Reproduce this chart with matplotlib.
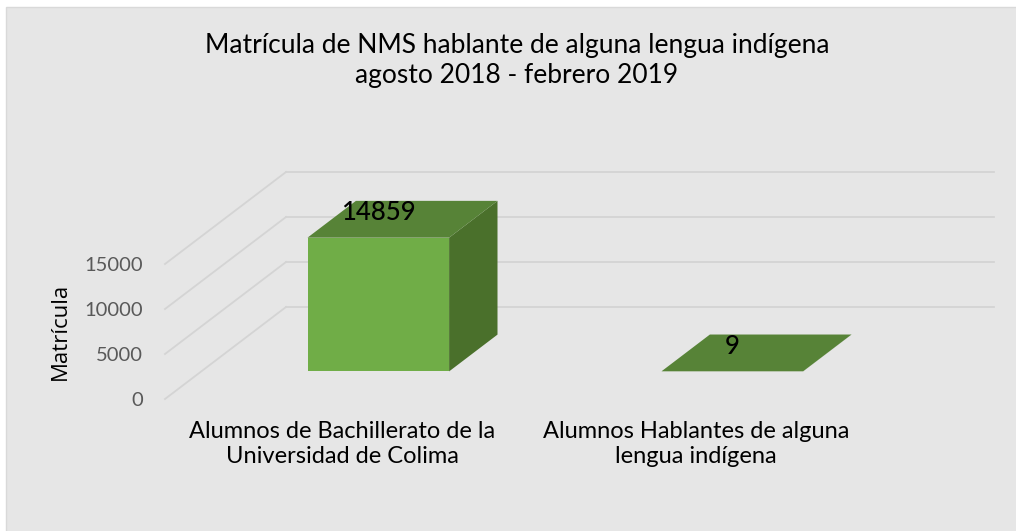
import matplotlib
matplotlib.use("Agg")
import matplotlib.pyplot as plt
from matplotlib.patches import Polygon, Rectangle

categories = ["Alumnos de Bachillerato de la\nUniversidad de Colima",
              "Alumnos Hablantes de alguna\nlengua indígena"]
values = [14859, 9]
yticks = [0, 5000, 10000, 15000]
title = "Matrícula de NMS hablante de alguna lengua indígena\nagosto 2018 - febrero 2019"
ylabel = "Matrícula"

W, H, DPI = 1016, 531, 100
FONT = "Lato"
BG = "#E6E6E6"
GRID = "#D4D4D4"
FRONT = "#70AD47"
TOP = "#578337"
SIDE = "#4A702B"

fig = plt.figure(figsize=(W / DPI, H / DPI), dpi=DPI, facecolor="white")
fig.patches.append(Rectangle((6 / W, -0.01), 1, 1.01 - 7 / H, transform=fig.transFigure,
                             facecolor=BG, edgecolor="#D9D9D9", lw=1.0, zorder=-10))

# axes = front plane of the 3D box
ax = fig.add_axes([165 / W, 132 / H, 708 / W, 135 / H])
ax.set_xlim(0, len(categories))
ax.set_ylim(0, 15000)
ax.patch.set_visible(False)
for s in ax.spines.values():
    s.set_visible(False)

# oblique depth projection in data units
px_x = 708 / len(categories)
px_y = 135 / 15000
DX = 121 / px_x
DY = 92 / px_y

for v in yticks:
    ax.plot([0, DX], [v, v + DY], color=GRID, lw=1.3, clip_on=False, zorder=1)
    ax.plot([DX, len(categories) + DX], [v + DY, v + DY], color=GRID, lw=1.3,
            clip_on=False, zorder=1)

bw = 0.4
d0, d1 = 0.3, 0.7
for i, val in enumerate(values):
    x0 = i + (1 - bw) / 2 + d0 * DX
    y0 = d0 * DY
    ddx = (d1 - d0) * DX
    ddy = (d1 - d0) * DY
    # side face
    ax.add_patch(Polygon([(x0 + bw, y0), (x0 + bw + ddx, y0 + ddy),
                          (x0 + bw + ddx, y0 + ddy + val), (x0 + bw, y0 + val)],
                         closed=True, facecolor=SIDE, edgecolor="none",
                         clip_on=False, zorder=3))
    # top face
    ax.add_patch(Polygon([(x0, y0 + val), (x0 + bw, y0 + val),
                          (x0 + bw + ddx, y0 + val + ddy), (x0 + ddx, y0 + val + ddy)],
                         closed=True, facecolor=TOP, edgecolor="none",
                         clip_on=False, zorder=3))
    # front face
    ax.add_patch(Rectangle((x0, y0), bw, val, facecolor=FRONT, edgecolor="none",
                           clip_on=False, zorder=4))
    ax.annotate(f"{val}", (x0 + bw / 2, y0 + val), xytext=(0, 25),
                textcoords="offset pixels", ha="center", va="center",
                fontsize=18.5, family=FONT, fontweight="medium", color="black",
                zorder=6, annotation_clip=False)

ax.set_yticks(yticks)
ax.set_yticklabels([str(t) for t in yticks], family=FONT, fontsize=14.5,
                   color="#595959")
ax.tick_params(axis="y", length=0, pad=16)
ax.set_xticks([i + 0.5 for i in range(len(categories))])
ax.set_xticklabels(categories, family=FONT, fontsize=17, color="black",
                   linespacing=1.2)
ax.tick_params(axis="x", length=0, pad=16)

fig.text(517 / W, 1 - 60 / H, title, ha="center", va="center", family=FONT,
         fontsize=19, color="black", linespacing=1.25)
fig.text(60 / W, 1 - 331 / H, ylabel, rotation=90, ha="center", va="center",
         family="Open Sans", fontsize=16, color="black")

fig.savefig("out.png", dpi=DPI, facecolor="white")
